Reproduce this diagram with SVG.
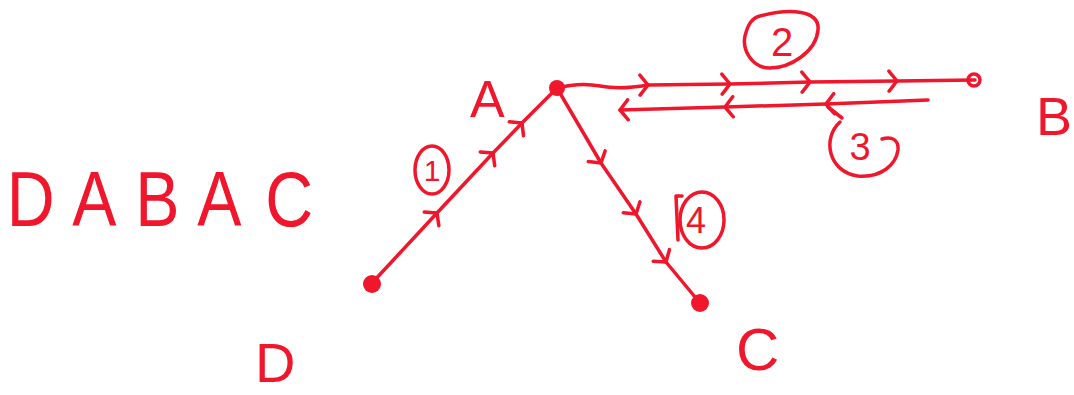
<svg xmlns="http://www.w3.org/2000/svg" width="1074" height="395" viewBox="0 0 1074 395">
  <defs>
    <style>
      .ink { stroke: #f0162c; stroke-width: 3.5; fill: none; stroke-linecap: round; stroke-linejoin: round; }
      .dot { fill: #f0162c; }
      .lbl { fill: #f0162c; font-family: "Liberation Sans", Arial, sans-serif; }
      .num { fill: #f0162c; font-family: "Liberation Sans", Arial, sans-serif; text-anchor: middle; }
    </style>
    <!-- open chevron used as a direction tick along each edge -->
    <marker id="chev" markerUnits="userSpaceOnUse" viewBox="-12 -12 24 24" markerWidth="24" markerHeight="24" refX="0" refY="0" orient="auto">
      <path d="M-8,-10 L0,0 L-8,10" fill="none" stroke="#f0162c" stroke-width="3.5" stroke-linecap="round" stroke-linejoin="round"/>
    </marker>
  </defs>

  <rect width="1074" height="395" fill="#ffffff"/>

  <!-- sequence written on the left -->
  <text class="lbl" font-size="78" transform="scale(0.85,1)" x="8 85 159 232 312" y="226">DABAC</text>

  <!-- connectors -->
  <g id="connectors">
    <!-- 1: D to A -->
    <path class="ink" d="M372,283 L437,213 L493,153 L522,123 L557,88" marker-mid="url(#chev)"/>
    <ellipse class="ink" cx="432" cy="170" rx="17" ry="24"/>
    <text class="num" x="432" y="181" font-size="30">1</text>

    <!-- 2: A to B -->
    <path class="ink" d="M557,88 Q580,82 600,86 T648,85"/>
    <path class="ink" d="M648,85 L730,84 L810,82 L897,81 L975,80" marker-start="url(#chev)" marker-mid="url(#chev)"/>
    <path class="ink" d="M760,16 C790,8 820,10 818,30 C816,52 790,68 770,68 C752,68 742,50 745,36 C748,24 752,18 760,16 Z"/>
    <text class="num" x="782" y="56" font-size="40">2</text>

    <!-- 3: B back to A -->
    <path class="ink" d="M928,100 L826,104 L725,107 L620,110" marker-mid="url(#chev)" marker-end="url(#chev)"/>
    <path class="ink" d="M828,107 L842,118"/>
    <path class="ink" d="M840,122 C822,138 828,172 858,176 C882,178 896,164 898,150 C899,140 892,136 882,139"/>
    <text class="num" x="860" y="160" font-size="38">3</text>

    <!-- 4: A to C -->
    <path class="ink" d="M557,88 L601,163 L636,214 L666,262 L700,303" marker-mid="url(#chev)"/>
    <ellipse class="ink" cx="702" cy="220" rx="22" ry="28"/>
    <path class="ink" d="M682,196 L676,196 L678,240"/>
    <text class="num" x="696" y="233" font-size="36">4</text>
  </g>

  <!-- nodes -->
  <g id="node-A">
    <circle class="dot" cx="557" cy="88" r="8"/>
    <text class="lbl" x="470" y="117" font-size="52">A</text>
  </g>
  <g id="node-B">
    <circle class="ink" cx="974" cy="80" r="6" stroke-width="5"/>
    <text class="lbl" x="1036" y="135" font-size="54">B</text>
  </g>
  <g id="node-C">
    <circle class="dot" cx="700" cy="303" r="9"/>
    <text class="lbl" x="736" y="370" font-size="60">C</text>
  </g>
  <g id="node-D">
    <circle class="dot" cx="372" cy="284" r="9"/>
    <text class="lbl" x="255" y="382" font-size="56">D</text>
  </g>
</svg>
